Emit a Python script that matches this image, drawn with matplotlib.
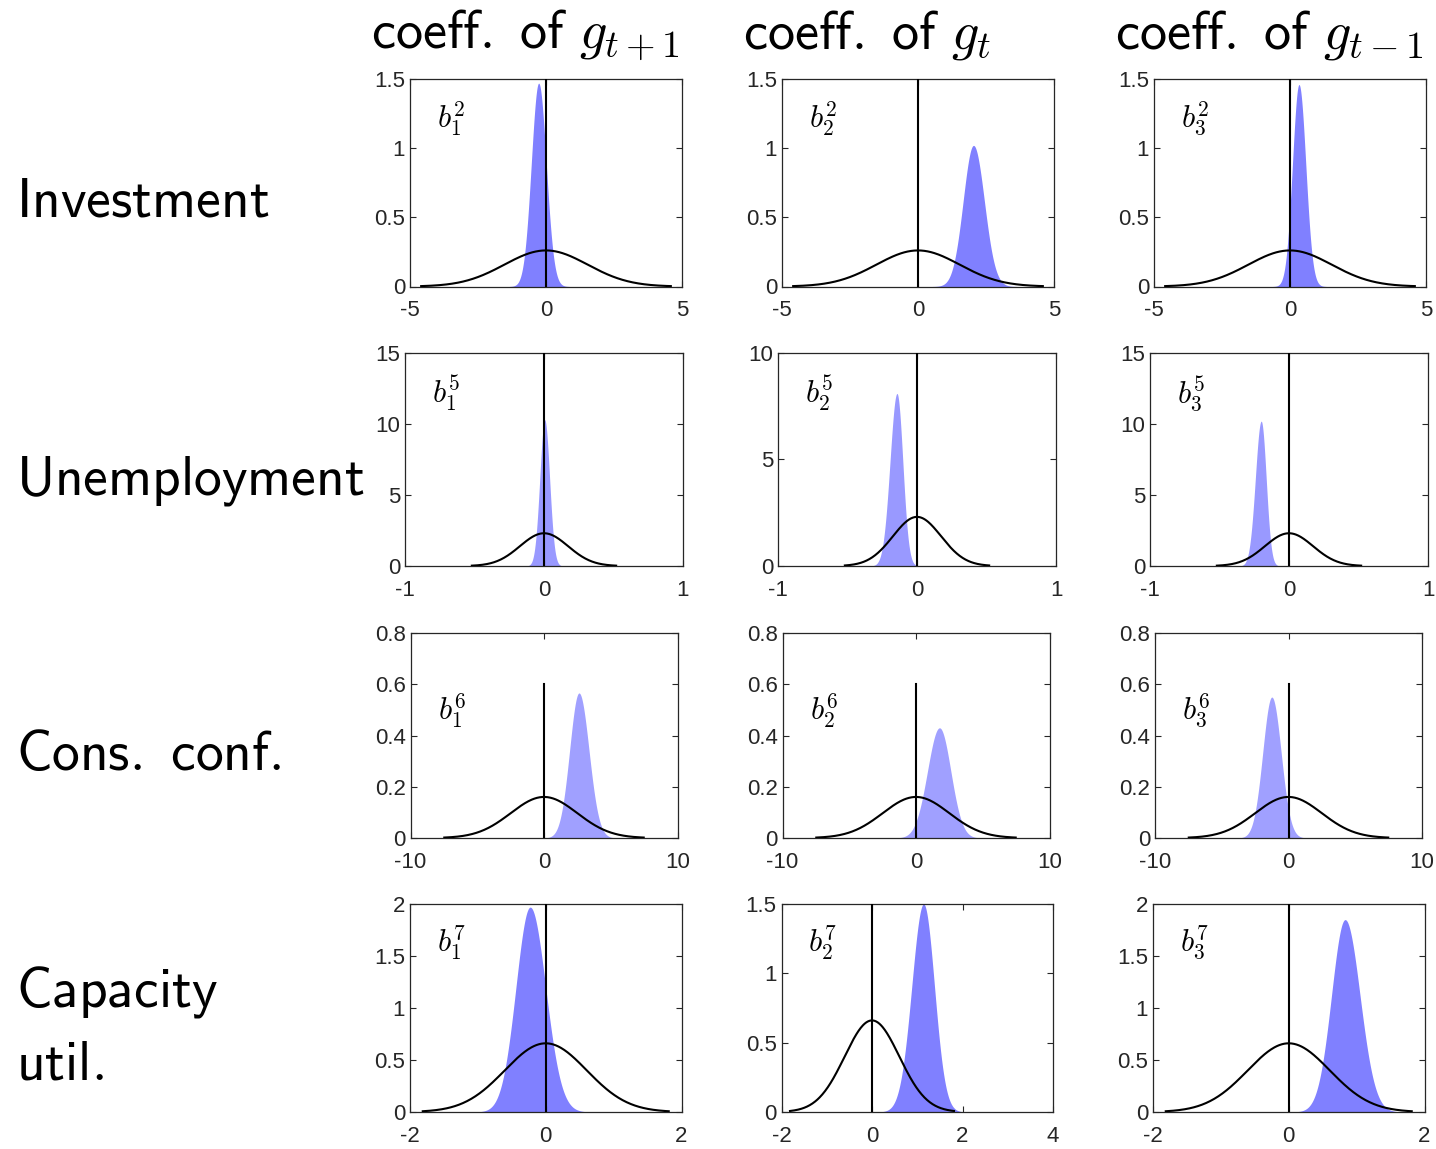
import numpy as np
import matplotlib
matplotlib.use('Agg')
import matplotlib.pyplot as plt

plt.rcParams['mathtext.fontset'] = 'cm'
plt.rcParams['axes.unicode_minus'] = False
plt.rcParams['font.family'] = ['Liberation Sans', 'DejaVu Sans']

# labels
row_names = ['Investment', 'Unemployment', 'Cons.\\ conf.', 'Capacity']
col_titles = ['g_{t+1}', 'g_t', 'g_{t-1}']
var_index = [2, 5, 6, 7]

# axis limits and ticks
x_lims = [[(-5, 5)] * 3, [(-1, 1)] * 3, [(-10, 10)] * 3, [(-2, 2), (-2, 4), (-2, 2)]]
x_ticks = [[[-5, 0, 5]] * 3, [[-1, 0, 1]] * 3, [[-10, 0, 10]] * 3,
           [[-2, 0, 2], [-2, 0, 2, 4], [-2, 0, 2]]]
y_tops = [[1.5, 1.5, 1.5], [15, 10, 15], [0.8, 0.8, 0.8], [2, 1.5, 2]]
y_steps = [0.5, 5, 0.2, 0.5]

# posterior densities (mode, peak height, left / right spread)
post_mode = [[-0.27, 2.04, 0.33], [0.005, -0.144, -0.2], [2.62, 1.76, -1.25], [-0.23, 1.14, 0.83]]
post_peak = [[1.47, 1.02, 1.46], [10.3, 8.1, 10.2], [0.566, 0.43, 0.55], [1.97, 1.5, 1.85]]
post_sd_left = [[0.27, 0.38, 0.24], [0.035, 0.05, 0.042], [0.7, 0.9, 0.68], [0.21, 0.26, 0.2]]
post_sd_right = [[0.28, 0.4, 0.25], [0.035, 0.042, 0.036], [0.75, 0.85, 0.7], [0.23, 0.24, 0.22]]

# prior: normal with mean 0
prior_sd = [1.53, 0.173, 2.49, 0.604]

# height of the vertical line at zero
zero_line_top = [[1.5, 1.5, 1.5], [15, 10, 15], [0.6, 0.6, 0.6], [2, 1.5, 2]]

W, H = 1436, 1149
fig = plt.figure(figsize=(W / 100, H / 100), dpi=100)

# pixel layout of the panels
row_lefts = [[410, 782, 1154], [405, 778, 1150], [410.5, 782.5, 1155], [410, 781.5, 1153]]
row_widths = [272, 278, 267, 271.5]
row_tops = [79, 353, 633, 904]
row_bottoms = [286.5, 566, 838, 1112]
label_y = [0.765, 0.765, 0.575, 0.77]
fill_colors = ['#8080ff', '#9999ff', '#a0a0ff', '#8080ff']

dark = '#262626'

for r in range(4):
    for c in range(3):
        l = row_lefts[r][c]
        w = row_widths[r]
        t, b = row_tops[r], row_bottoms[r]
        ax = fig.add_axes([l / W, 1 - b / H, w / W, (b - t) / H])

        m = post_mode[r][c]
        sl, sr = post_sd_left[r][c], post_sd_right[r][c]
        xp = np.linspace(m - 4 * sl, m + 4 * sr, 400)
        sd = np.where(xp < m, sl, sr)
        yp = post_peak[r][c] * np.exp(-0.5 * ((xp - m) / sd) ** 2)
        ax.fill_between(xp, 0, yp, color=fill_colors[r], lw=0, zorder=1)

        s = prior_sd[r]
        xq = np.linspace(-3 * s, 3 * s, 300)
        yq = np.exp(-0.5 * (xq / s) ** 2) / (s * np.sqrt(2 * np.pi))
        ax.plot(xq, yq, color='black', lw=1.5, zorder=3)
        ax.plot([0, 0], [0, zero_line_top[r][c]], color='black', lw=1.5, zorder=3)

        ax.set_xlim(*x_lims[r][c])
        ax.set_ylim(0, y_tops[r][c])
        ax.set_xticks(x_ticks[r][c])
        ax.set_xticklabels(['%g' % v for v in x_ticks[r][c]])
        yt = np.arange(0, y_tops[r][c] + 1e-9, y_steps[r])
        ax.set_yticks(yt)
        ax.set_yticklabels(['%g' % round(v, 2) for v in yt])
        ax.tick_params(direction='in', top=True, right=True, length=4, width=0.8,
                       labelsize=16, color=dark, labelcolor=dark)
        ax.tick_params(axis='x', pad=10)
        ax.tick_params(axis='y', pad=3.5)
        for sp in ax.spines.values():
            sp.set_color(dark)
            sp.set_linewidth(0.9)

        ax.text(27 / w, label_y[r], r'$b_{%d}^{%d}$' % (c + 1, var_index[r]),
                transform=ax.transAxes, fontsize=22, va='baseline', ha='left')

        if r == 0:
            fig.text((l - 39) / W, 1 - 48 / H,
                     r'$\mathsf{coeff.\ of}\ %s$' % col_titles[c],
                     fontsize=39, ha='left', va='baseline')

row_baselines = [216, 494, 770, 1006]
for r in range(4):
    fig.text(16 / W, 1 - row_baselines[r] / H, r'$\mathsf{%s}$' % row_names[r],
             fontsize=40, ha='left', va='baseline')
fig.text(16 / W, 1 - 1080 / H, r'$\mathsf{util.}$', fontsize=40, ha='left', va='baseline')

fig.savefig('out.png', dpi=100)
